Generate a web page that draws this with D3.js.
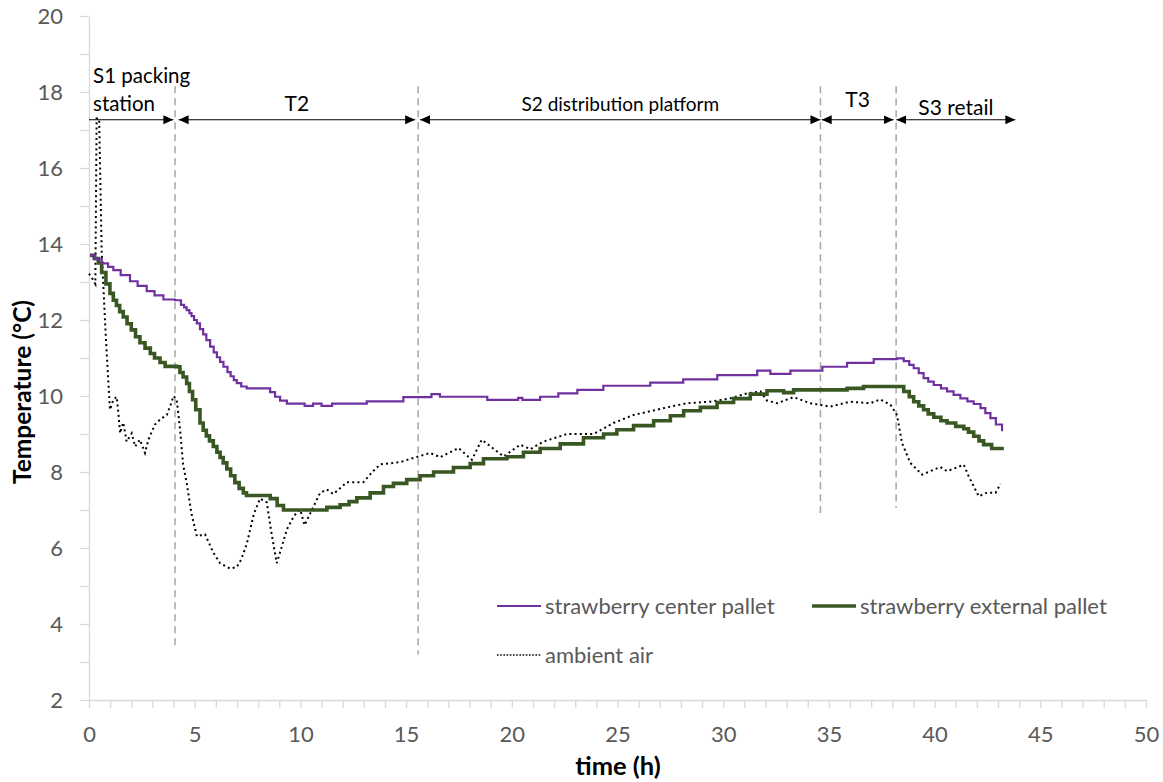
<!DOCTYPE html>
<html>
<head>
<meta charset="utf-8">
<script src="https://cdn.jsdelivr.net/npm/d3@7"></script>
<style>
  body { margin: 0; background: #fff; }
  svg { display: block; }
  text { font-family: Lato, "Open Sans", "Noto Sans", sans-serif; }
</style>
</head>
<body>
<svg id="chart" width="1163" height="782"></svg>
<script>
// Temperature logs along the strawberry cold chain: [time (h), temperature (°C)]
const centerPallet = [
  [0.05,13.70],[0.3,13.60],[0.6,13.49],[0.9,13.40],[1.15,13.31],[1.5,13.18],[1.94,13.02],
  [2.3,12.90],[2.73,12.76],[3.1,12.65],[3.52,12.54],[4.07,12.52],[4.35,12.40],[4.5,12.33],
  [4.62,12.26],[4.75,12.18],[4.85,12.10],[4.97,12.00],[5.1,11.91],[5.25,11.76],[5.4,11.62],
  [5.55,11.47],[5.73,11.30],[5.9,11.15],[6.05,11.02],[6.2,10.90],[6.36,10.77],[6.55,10.63],
  [6.7,10.52],[6.85,10.42],[6.99,10.34],[7.2,10.25],[7.46,10.20],[8.57,10.10],[8.8,9.98],
  [9.04,9.88],[9.36,9.80],[10.2,9.74],[10.6,9.80],[11.0,9.74],[11.5,9.80],[13.14,9.86],
  [14.87,9.97],[16.2,10.05],[16.6,9.98],[18.84,9.90],[20.3,9.95],[20.5,9.90],[21.34,9.98],
  [22.2,10.07],[23.1,10.16],[24.33,10.27],[26.55,10.35],[28.11,10.44],[29.72,10.55],
  [31.61,10.67],[32.23,10.58],[33.18,10.67],[34.69,10.77],[35.86,10.87],[37.12,10.97],
  [38.22,10.99],[38.54,10.92],[38.8,10.82],[39.01,10.73],[39.25,10.60],[39.48,10.47],
  [39.7,10.38],[39.96,10.29],[40.3,10.20],[40.59,10.12],[40.9,10.03],[41.22,9.94],
  [41.55,9.86],[41.85,9.79],[42.17,9.68],[42.4,9.55],[42.64,9.42],[42.9,9.25],[43.19,9.07]
];

const externalPallet = [
  [0.05,13.70],[0.25,13.62],[0.44,13.50],[0.6,13.25],[0.8,12.95],[0.99,12.70],[1.15,12.52],
  [1.3,12.38],[1.45,12.22],[1.62,12.08],[1.8,11.90],[2.0,11.74],[2.2,11.56],[2.41,11.40],
  [2.65,11.26],[2.9,11.12],[3.1,11.00],[3.36,10.88],[3.6,10.78],[4.15,10.77],[4.3,10.62],
  [4.45,10.50],[4.62,10.33],[4.75,10.12],[4.9,9.90],[5.05,9.64],[5.25,9.29],[5.4,9.10],
  [5.55,8.95],[5.7,8.82],[5.88,8.67],[6.05,8.52],[6.2,8.38],[6.35,8.24],[6.52,8.08],
  [6.7,7.90],[6.9,7.72],[7.1,7.57],[7.3,7.45],[7.45,7.38],[8.57,7.30],[8.9,7.12],[9.2,7.00],
  [11.25,7.07],[11.88,7.14],[12.3,7.22],[12.67,7.32],[13.3,7.45],[13.93,7.62],[14.4,7.70],
  [15.03,7.80],[15.66,7.90],[16.3,8.00],[17.24,8.12],[18.03,8.22],[18.66,8.35],[19.77,8.40],
  [20.55,8.52],[21.34,8.62],[22.29,8.74],[23.39,8.90],[24.34,9.00],[24.97,9.11],[25.76,9.22],
  [26.71,9.35],[27.5,9.48],[28.13,9.61],[28.92,9.70],[29.71,9.83],[30.49,9.93],[31.28,10.05],
  [32.07,10.14],[32.86,10.09],[33.33,10.16],[35.86,10.20],[36.64,10.25],[38.22,10.25],
  [38.54,10.12],[38.8,9.98],[39.01,9.85],[39.25,9.74],[39.48,9.64],[39.7,9.53],[39.96,9.44],
  [40.3,9.35],[40.59,9.29],[41.0,9.20],[41.38,9.14],[41.6,9.05],[41.85,8.94],[42.1,8.82],
  [42.32,8.72],[42.7,8.62],[43.19,8.57]
];

const ambientAir = [
  [0.0,13.22],[0.2,13.05],[0.3,12.95],[0.36,17.3],[0.48,17.3],[0.6,13.8],[0.8,11.5],
  [0.99,9.64],[1.15,9.9],[1.31,9.98],[1.39,9.55],[1.47,9.02],[1.62,9.3],[1.78,8.8],
  [2.02,9.02],[2.18,8.67],[2.41,8.85],[2.65,8.5],[2.81,8.85],[3.12,9.25],[3.4,9.4],
  [3.68,9.5],[3.85,9.75],[4.0,10.0],[4.15,9.9],[4.31,9.11],[4.45,8.2],[4.62,7.71],
  [4.85,6.9],[5.1,6.31],[5.49,6.36],[5.88,5.88],[6.2,5.6],[6.67,5.46],[6.99,5.5],[7.2,5.7],
  [7.46,6.1],[7.8,6.9],[8.09,7.3],[8.41,7.2],[8.6,6.5],[8.88,5.6],[9.1,6.0],[9.36,6.49],
  [9.7,6.85],[9.99,7.01],[10.2,6.6],[10.5,6.95],[10.93,7.45],[11.25,7.54],[11.56,7.42],
  [12.2,7.73],[12.98,7.73],[13.4,8.0],[13.77,8.2],[14.72,8.26],[15.35,8.37],[16.14,8.5],
  [16.61,8.39],[17.48,8.63],[18.11,8.32],[18.58,8.85],[19.61,8.41],[20.4,8.72],[20.87,8.60],
  [21.5,8.80],[22.61,9.0],[23.87,9.0],[24.81,9.29],[25.76,9.5],[26.71,9.62],[27.5,9.72],
  [28.29,9.81],[29.39,9.85],[30.34,9.94],[31.13,10.07],[31.76,10.12],[32.07,9.88],
  [32.55,9.81],[33.33,9.97],[34.12,9.81],[35.07,9.72],[36.01,9.85],[36.96,9.81],
  [37.43,9.91],[37.91,9.77],[38.22,9.50],[38.46,8.76],[38.85,8.24],[39.41,7.93],
  [39.96,8.06],[40.27,8.13],[40.59,8.02],[41.38,8.19],[41.61,7.89],[42.09,7.36],
  [42.48,7.46],[42.88,7.45],[43.12,7.69]
];

// Cold-chain stages (time spans in h)
const stageNames = [["S1 packing", "station"], ["T2"], ["S2 distribution platform"], ["T3"], ["S3 retail"]];
const stageStart = [0, 4.24, 15.66, 34.66, 38.19];
const stageEnd = [3.99, 15.43, 34.6, 38.06, 43.82];
// Stage boundaries (h) and the temperature where each divider stops (°C)
const boundaryTimes = [4.07, 15.57, 34.6, 38.18];
const boundaryLow = [3.38, 3.2, 6.92, 7.05];

const xTicks = d3.range(0, 51, 5);
const yTicks = d3.range(2, 21, 2);

const svg = d3.select("#chart");
const x = d3.scaleLinear().domain([0, 50]).range([89, 1146]);
const y = d3.scaleLinear().domain([2, 20]).range([700, 16]);

const axisGray = "#d9d9d9";
const labelGray = "#595959";

// Axes
const yAxis = svg.append("g")
  .attr("transform", `translate(${x(0)},0)`)
  .call(d3.axisLeft(y)
    .tickValues(d3.range(2, 21, 1))
    .tickSize(9).tickSizeOuter(0).tickPadding(17)
    .tickFormat(d => yTicks.includes(d) ? d : ""));
const xAxis = svg.append("g")
  .attr("transform", `translate(0,${y(2)})`)
  .call(d3.axisBottom(x)
    .tickValues(d3.range(0, 51, 1))
    .tickSize(8).tickSizeOuter(0).tickPadding(18)
    .tickFormat(d => xTicks.includes(d) ? d : ""));
[xAxis, yAxis].forEach(g => {
  g.select(".domain").attr("stroke", axisGray).attr("stroke-width", 1.3);
  g.selectAll(".tick line").attr("stroke", axisGray).attr("stroke-width", 1.3);
  g.selectAll(".tick text").attr("fill", labelGray).style("font-size", "22px")
    .style("font-family", "Lato, 'Open Sans', sans-serif");
});

// Axis titles
svg.append("text")
  .attr("transform", "translate(31,392) rotate(-90)")
  .attr("text-anchor", "middle")
  .style("font-size", "24.5px").style("font-weight", "bold").attr("fill", "#000")
  .text("Temperature (°C)");
svg.append("text")
  .attr("x", 618).attr("y", 775)
  .attr("text-anchor", "middle")
  .style("font-size", "25.5px").style("font-weight", "bold").attr("fill", "#000")
  .text("time (h)");

// Stage dividers
svg.append("g").selectAll("line")
  .data(boundaryTimes)
  .join("line")
  .attr("x1", d => x(d)).attr("x2", d => x(d))
  .attr("y1", y(18.15))
  .attr("y2", (d, i) => y(boundaryLow[i]))
  .attr("stroke", "#a6a6a6").attr("stroke-width", 1.5)
  .attr("stroke-dasharray", "7,5");

// Arrow markers for stage spans
const defs = svg.append("defs");
defs.append("marker")
  .attr("id", "arrow")
  .attr("markerUnits", "userSpaceOnUse")
  .attr("markerWidth", 11).attr("markerHeight", 10)
  .attr("refX", 10).attr("refY", 5)
  .attr("orient", "auto-start-reverse")
  .append("path").attr("d", "M0,0.5 L10,5 L0,9.5 Z").attr("fill", "#000");

// Series lines
const linear = d3.line().x(d => x(d[0])).y(d => y(d[1])).curve(d3.curveLinear);
const stepped = d3.line().x(d => x(d[0])).y(d => y(d[1])).curve(d3.curveStepAfter);
svg.append("path").datum(ambientAir)
  .attr("d", linear)
  .attr("fill", "none").attr("stroke", "#000").attr("stroke-width", 2)
  .attr("stroke-dasharray", "2,3.2");
svg.append("path").datum(externalPallet)
  .attr("d", stepped)
  .attr("fill", "none").attr("stroke", "#385723").attr("stroke-width", 3.6);
svg.append("path").datum(centerPallet)
  .attr("d", stepped)
  .attr("fill", "none").attr("stroke", "#7030a0").attr("stroke-width", 2.2);

// Stage spans and names
const arrowLevel = 17.27;
const spans = svg.append("g");
stageNames.forEach((name, i) => {
  spans.append("line")
    .attr("x1", x(stageStart[i])).attr("x2", x(stageEnd[i]))
    .attr("y1", y(arrowLevel)).attr("y2", y(arrowLevel))
    .attr("stroke", "#000").attr("stroke-width", 1.2)
    .attr("marker-end", "url(#arrow)")
    .attr("marker-start", i === 0 ? null : "url(#arrow)");
});
const labelStyle = sel => sel.style("font-size", "19.5px").attr("fill", "#000");
// first stage: two-line label at the left edge
svg.append("text").attr("x", x(0.19)).attr("y", 83).call(labelStyle).style("font-size", "20.5px").text(stageNames[0][0]);
svg.append("text").attr("x", x(0.19)).attr("y", 111).call(labelStyle).style("font-size", "20.5px").text(stageNames[0][1]);
const labelBaselines = [null, 111, 111, 107, 115];
stageNames.forEach((name, i) => {
  if (i === 0) return;
  svg.append("text")
    .attr("x", x((stageStart[i] + stageEnd[i]) / 2))
    .attr("y", labelBaselines[i])
    .attr("text-anchor", "middle")
    .call(labelStyle)
    .style("font-size", i === 2 ? "19px" : "21px")
    .text(name[0]);
});

// Legend
const legendItems = [
  { label: "strawberry center pallet", color: "#7030a0", width: 2.2, dash: null, x: 497, y: 606 },
  { label: "strawberry external pallet", color: "#385723", width: 3.6, dash: null, x: 812, y: 606 },
  { label: "ambient air", color: "#000", width: 1.6, dash: "1.6,1.6", x: 497, y: 655 }
];
const legend = svg.append("g");
legendItems.forEach(it => {
  legend.append("line")
    .attr("x1", it.x).attr("x2", it.x + 44)
    .attr("y1", it.y).attr("y2", it.y)
    .attr("stroke", it.color).attr("stroke-width", it.width)
    .attr("stroke-dasharray", it.dash);
  legend.append("text")
    .attr("x", it.x + 48).attr("y", it.y).attr("dy", "0.35em")
    .style("font-size", "22px").attr("fill", labelGray)
    .text(it.label);
});
</script>
</body>
</html>
